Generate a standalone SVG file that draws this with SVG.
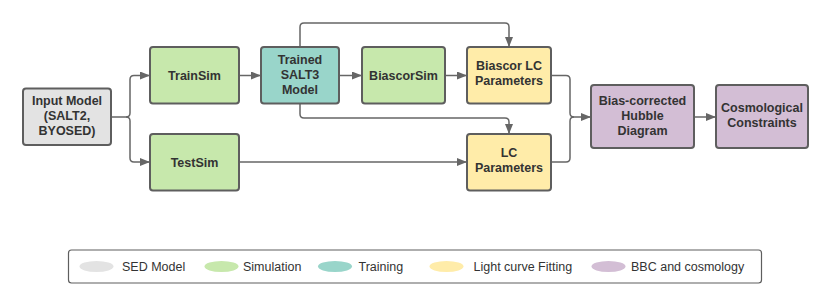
<svg xmlns="http://www.w3.org/2000/svg" width="830" height="307" viewBox="0 0 830 307">
<defs>
<style>
.box{stroke:#5e5e5e;stroke-width:2}
.gray{fill:#e3e3e3}.green{fill:#c7e8ac}.teal{fill:#99d5ca}.yellow{fill:#ffeca9}.purple{fill:#d3bed5}
.lbl{font-family:"Liberation Sans",Arial,sans-serif;font-weight:bold;font-size:12.5px;fill:#333;text-anchor:middle}
.leg{font-family:"Liberation Sans",Arial,sans-serif;font-size:12.5px;fill:#333}
.conn{fill:none;stroke:#666;stroke-width:1.5;stroke-linejoin:round}
</style>
<marker id="arr" viewBox="0 0 10 8" refX="10" refY="4" markerWidth="10" markerHeight="8" markerUnits="userSpaceOnUse" orient="auto">
<path d="M0,0 L10,4 L0,8 Z" fill="#666"/>
</marker>
</defs>
<rect width="830" height="307" fill="#fff"/>
<g id="connectors">
<path class="conn" d="M111,117 H126 Q130,117 130,113 V79.5 Q130,75.5 134,75.5 H150" marker-end="url(#arr)"/>
<path class="conn" d="M126,117 Q130,117 130,121 V158 Q130,162 134,162 H150" marker-end="url(#arr)"/>
<path class="conn" d="M239,75.5 H261" marker-end="url(#arr)"/>
<path class="conn" d="M339,75.5 H362" marker-end="url(#arr)"/>
<path class="conn" d="M445,75.5 H467" marker-end="url(#arr)"/>
<path class="conn" d="M300,47 V27 Q300,23 304,23 H505 Q509,23 509,27 V47" marker-end="url(#arr)"/>
<path class="conn" d="M300,104 V114 Q300,118 304,118 H505 Q509,118 509,122 V134" marker-end="url(#arr)"/>
<path class="conn" d="M239,162 H467" marker-end="url(#arr)"/>
<path class="conn" d="M551,75.5 H566 Q570,75.5 570,79.5 V113 Q570,117 574,117 H591" marker-end="url(#arr)"/>
<path class="conn" d="M551,162 H566 Q570,162 570,158 V121 Q570,117 574,117"/>
<path class="conn" d="M694,117 H716" marker-end="url(#arr)"/>
</g>
<g id="input-model">
<rect class="box gray" x="23" y="88.5" width="88" height="56.5" rx="3"/>
<text class="lbl" x="67" y="105">Input Model</text>
<text class="lbl" x="67" y="120">(SALT2,</text>
<text class="lbl" x="67" y="135">BYOSED)</text>
</g>
<g id="trainsim">
<rect class="box green" x="150" y="47" width="89" height="56.5" rx="3"/>
<text class="lbl" x="194.5" y="79.5">TrainSim</text>
</g>
<g id="testsim">
<rect class="box green" x="150" y="134" width="89" height="56.5" rx="3"/>
<text class="lbl" x="194.5" y="166.5">TestSim</text>
</g>
<g id="trained-salt3">
<rect class="box teal" x="261" y="47" width="78" height="56.5" rx="3"/>
<text class="lbl" x="300" y="63.5">Trained</text>
<text class="lbl" x="300" y="78.5">SALT3</text>
<text class="lbl" x="300" y="93.5">Model</text>
</g>
<g id="biascorsim">
<rect class="box green" x="362" y="47" width="83" height="56.5" rx="3"/>
<text class="lbl" x="403.5" y="79.5">BiascorSim</text>
</g>
<g id="biascor-lc">
<rect class="box yellow" x="467" y="47" width="84" height="56.5" rx="3"/>
<text class="lbl" x="509" y="70">Biascor LC</text>
<text class="lbl" x="509" y="85">Parameters</text>
</g>
<g id="lc-params">
<rect class="box yellow" x="467" y="134" width="84" height="56.5" rx="3"/>
<text class="lbl" x="509" y="157">LC</text>
<text class="lbl" x="509" y="172">Parameters</text>
</g>
<g id="hubble">
<rect class="box purple" x="591" y="85" width="103" height="63" rx="3"/>
<text class="lbl" x="642.5" y="104.5">Bias-corrected</text>
<text class="lbl" x="642.5" y="119.5">Hubble</text>
<text class="lbl" x="642.5" y="134.5">Diagram</text>
</g>
<g id="cosmo">
<rect class="box purple" x="716" y="85" width="92" height="63" rx="3"/>
<text class="lbl" x="762" y="112">Cosmological</text>
<text class="lbl" x="762" y="127">Constraints</text>
</g>
<g id="legend">
<rect x="68.5" y="250" width="693" height="33" rx="3" fill="#fff" stroke="#5e5e5e" stroke-width="1.2"/>
<ellipse cx="96.5" cy="266.5" rx="17" ry="5.5" fill="#e3e3e3"/>
<text class="leg" x="122" y="271">SED Model</text>
<ellipse cx="221.5" cy="266.5" rx="17" ry="5.5" fill="#c7e8ac"/>
<text class="leg" x="243" y="271">Simulation</text>
<ellipse cx="335" cy="266.5" rx="17" ry="5.5" fill="#99d5ca"/>
<text class="leg" x="358.5" y="271">Training</text>
<ellipse cx="446.5" cy="266.5" rx="17" ry="5.5" fill="#ffeca9"/>
<text class="leg" x="473.5" y="271">Light curve Fitting</text>
<ellipse cx="608.5" cy="266.5" rx="17" ry="5.5" fill="#d3bed5"/>
<text class="leg" x="631" y="271">BBC and cosmology</text>
</g>
</svg>
